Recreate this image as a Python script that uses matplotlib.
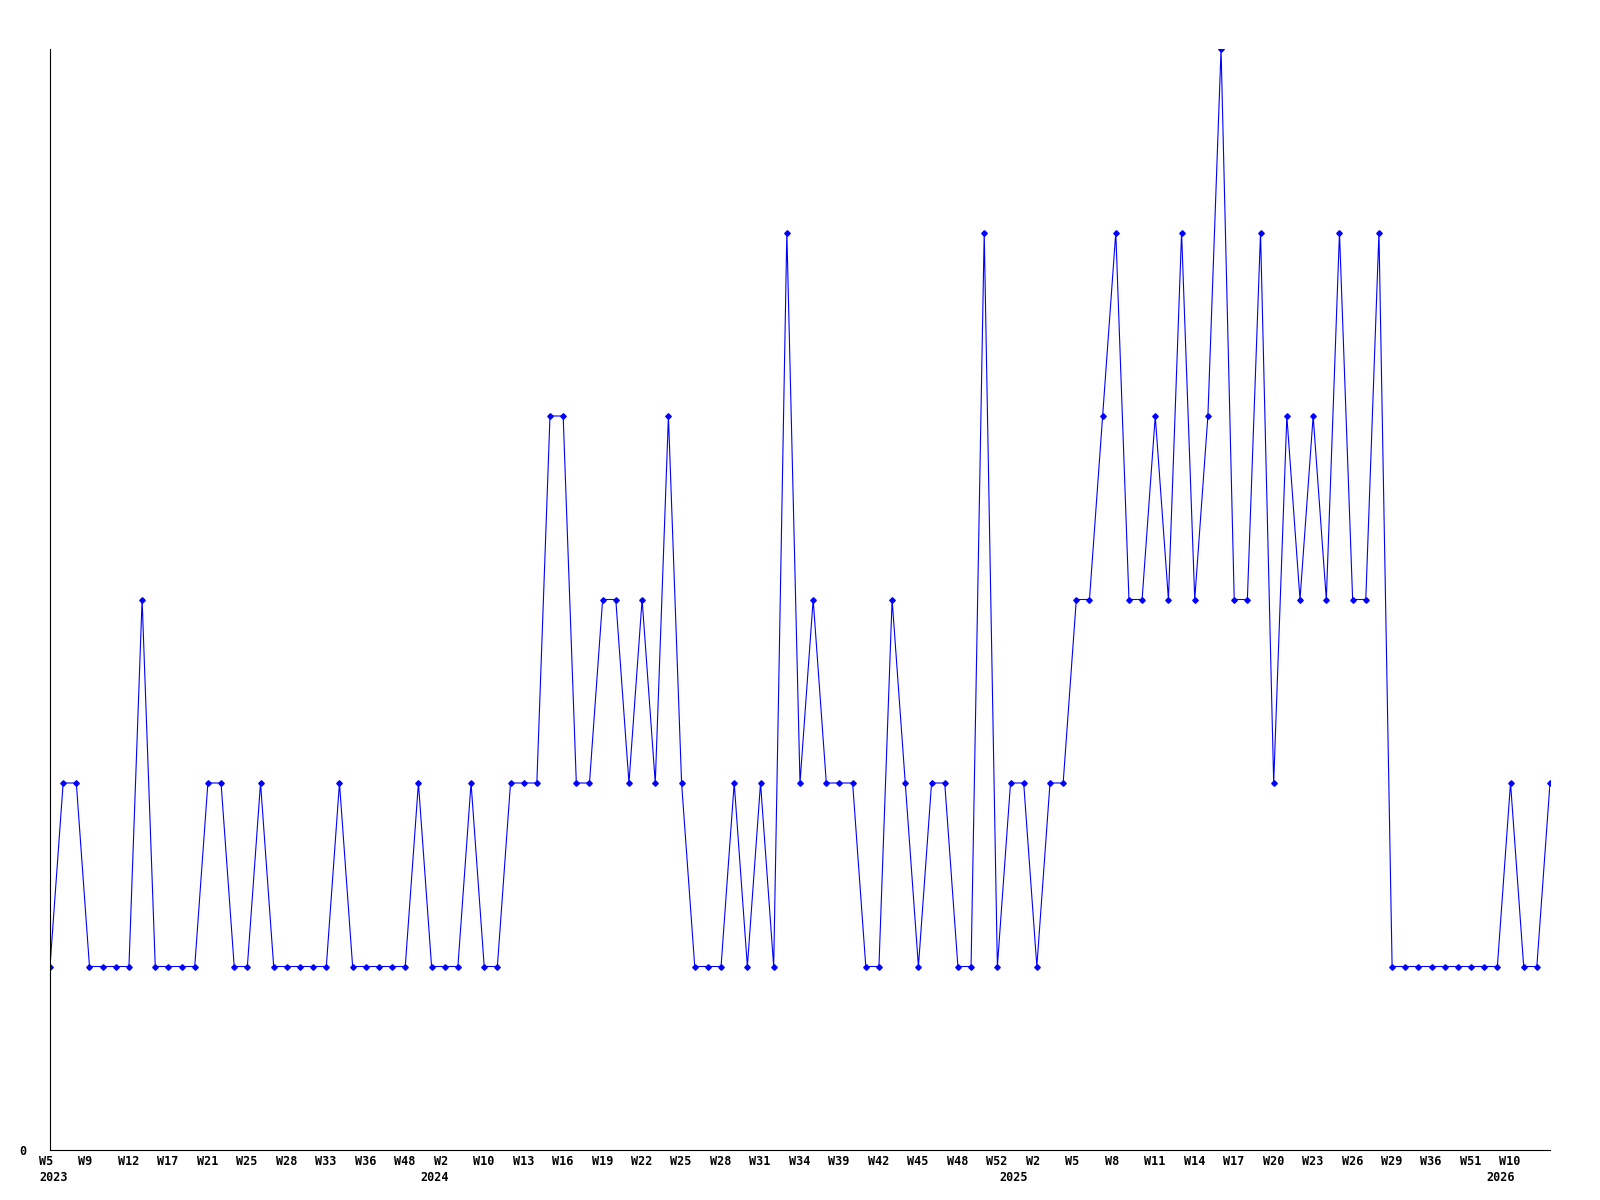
import matplotlib
matplotlib.use("Agg")
import matplotlib.pyplot as plt
import matplotlib.transforms as mtransforms

# Weekly counts (one point per reported week)
values = [1, 2, 2, 1, 1, 1, 1, 3, 1, 1, 1, 1, 2, 2, 1, 1, 2, 1, 1, 1,
          1, 1, 2, 1, 1, 1, 1, 1, 2, 1, 1, 1, 2, 1, 1, 2, 2, 2, 4, 4,
          2, 2, 3, 3, 2, 3, 2, 4, 2, 1, 1, 1, 2, 1, 2, 1, 5, 2, 3, 2,
          2, 2, 1, 1, 3, 2, 1, 2, 2, 1, 1, 5, 1, 2, 2, 1, 2, 2, 3, 3,
          4, 5, 3, 3, 4, 3, 5, 3, 4, 6, 3, 3, 5, 2, 4, 3, 4, 3, 5, 3,
          3, 5, 1, 1, 1, 1, 1, 1, 1, 1, 1, 2, 1, 1, 2]

week_labels = ['W5', 'W9', 'W12', 'W17', 'W21', 'W25', 'W28', 'W33', 'W36', 'W48',
               'W2', 'W10', 'W13', 'W16', 'W19', 'W22', 'W25', 'W28', 'W31', 'W34',
               'W39', 'W42', 'W45', 'W48', 'W52', 'W2', 'W5', 'W8', 'W11', 'W14',
               'W17', 'W20', 'W23', 'W26', 'W29', 'W36', 'W51', 'W10']
week_label_step = 3

year_labels = ['2023', '2024', '2025', '2026']
year_label_idx = [0, 29, 73, 110]

x = list(range(len(values)))

fig = plt.figure(figsize=(16, 12), dpi=100)
ax = fig.add_axes([50 / 1600, 50 / 1200, 1500 / 1600, 1101 / 1200])

ax.plot(x, values, color='#0000ff', linewidth=0.8, marker='D', markersize=2.8,
        markerfacecolor='#0000ff', markeredgecolor='#0000ff', clip_on=True)

ax.set_xlim(0, len(values) - 1)
ax.set_ylim(0, 6)

for side in ('top', 'right'):
    ax.spines[side].set_visible(False)
for side in ('left', 'bottom'):
    ax.spines[side].set_color('black')
    ax.spines[side].set_linewidth(0.8)

font = dict(family='DejaVu Sans Mono', weight='bold', size=8.5, color='black')

ax.set_xticks([])
ax.set_yticks([0])
ax.set_yticklabels(['0'], **font)
ax.tick_params(axis='y', length=0, pad=17)

base = ax.get_xaxis_transform()
wk_tr = mtransforms.offset_copy(base, fig=fig, x=-8.0, y=-8.0, units='points')
yr_tr = mtransforms.offset_copy(base, fig=fig, x=-8.0, y=-19.5, units='points')

for i, lab in enumerate(week_labels):
    ax.text(i * week_label_step, 0, lab, transform=wk_tr, ha='left', va='center',
            clip_on=False, **font)
for idx, lab in zip(year_label_idx, year_labels):
    ax.text(idx, 0, lab, transform=yr_tr, ha='left', va='center',
            clip_on=False, **font)

fig.savefig('out.png', dpi=100, facecolor='white')
